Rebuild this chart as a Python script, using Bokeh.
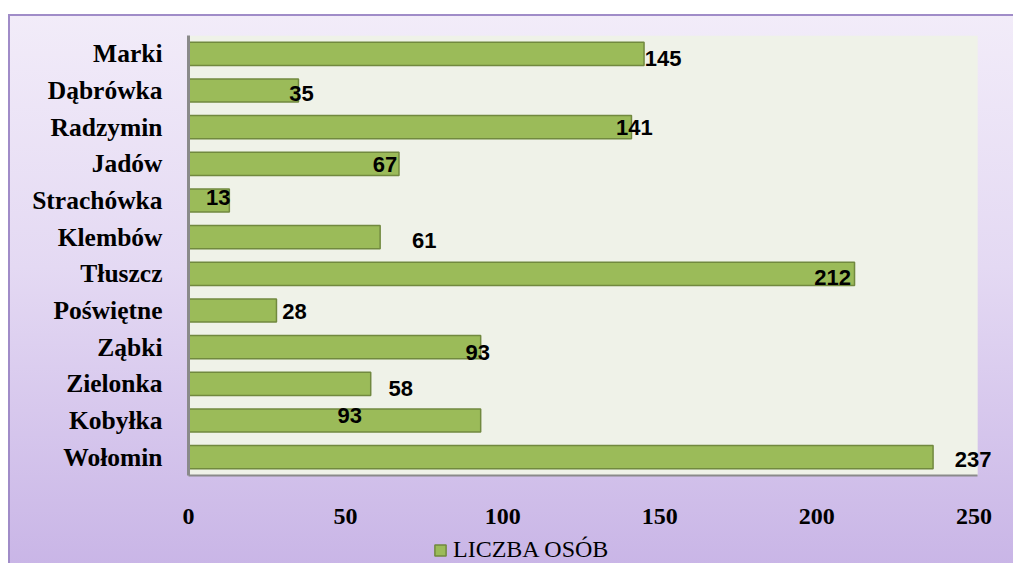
from bokeh.plotting import figure
from bokeh.layouts import column
from bokeh.models import (ColumnDataSource, Range1d, FactorRange, FixedTicker,
                          Legend, LegendItem, LabelSet, BoxAnnotation)
from bokeh.core.properties import value
from bokeh.embed import file_html
from bokeh.resources import INLINE

# ---- data (top to bottom as in the chart) ----
towns = ["Marki", "Dąbrówka", "Radzymin", "Jadów", "Strachówka", "Klembów",
         "Tłuszcz", "Poświętne", "Ząbki", "Zielonka", "Kobyłka", "Wołomin"]
counts = [145, 35, 141, 67, 13, 61, 212, 28, 93, 58, 93, 237]
x_ticks = [0, 50, 100, 150, 200, 250]
series_name = "LICZBA OSÓB"

# label placement (pixel offsets from bar end, as in the original; dy: + = up)
label_dx = [19, 3, 3, -14, -11, 44, -22, 18, -3, 30, -131, 40]
label_dy = [-5, -3, 0, -1, 3, -3, -4, -1, -5, -5, 5, -2]

BAR_FILL = "#9bbb59"
BAR_LINE = "#71893f"
AXIS_MAX = 251.2          # right edge of the plotting area (axis units)
X_VIEW_END = 262.6        # visible extent, leaves room for outside labels

src = ColumnDataSource(dict(town=towns, count=counts,
                            label=[str(c) for c in counts],
                            dx=label_dx, dy=label_dy))

W = 1013
H_MAIN = 533
H_LEG = 30

p = figure(width=W, height=H_MAIN, output_backend="svg", toolbar_location=None,
           y_range=FactorRange(*list(reversed(towns))),
           x_range=Range1d(0, X_VIEW_END),
           min_border_left=188, min_border_right=0,
           min_border_top=35, min_border_bottom=H_MAIN - 475)
p.border_fill_color = None
p.background_fill_color = None
p.outline_line_color = None

# plotting-area background (light green-grey) up to the axis maximum
p.add_layout(BoxAnnotation(left=0, right=AXIS_MAX, fill_color="#eff2e8",
                           fill_alpha=1, line_color=None, level="underlay"))

p.hbar(y="town", right="count", left=0, height=0.63, source=src,
       fill_color=BAR_FILL, line_color=BAR_LINE, line_width=1.5)

labels = LabelSet(x="count", y="town", text="label", source=src,
                  x_offset="dx", y_offset="dy",
                  text_font=value("Liberation Sans"), text_font_style="bold",
                  text_font_size="22px", text_color="#000000",
                  text_align="center", text_baseline="middle")
p.add_layout(labels)

p.xgrid.grid_line_color = None
p.ygrid.grid_line_color = None

xa = p.xaxis[0]
xa.ticker = FixedTicker(ticks=x_ticks)
xa.bounds = (0, AXIS_MAX)
xa.axis_line_color = "#8a8a8a"
xa.axis_line_width = 2
xa.major_tick_line_color = None
xa.minor_tick_line_color = None
xa.major_label_standoff = 27
xa.major_label_text_font = "Liberation Serif"
xa.major_label_text_font_style = "bold"
xa.major_label_text_font_size = "24px"
xa.major_label_text_color = "#000000"

ya = p.yaxis[0]
ya.axis_line_color = "#8a8a8a"
ya.axis_line_width = 3
ya.major_tick_line_color = None
ya.minor_tick_line_color = None
ya.major_label_standoff = 20
ya.major_label_text_font = "Liberation Serif"
ya.major_label_text_font_style = "bold"
ya.major_label_text_font_size = "25.5px"
ya.major_label_text_color = "#000000"

# ---- legend strip (separate transparent figure under the chart) ----
lg = figure(width=W, height=H_LEG, output_backend="svg", toolbar_location=None,
            x_range=Range1d(0, 1), y_range=Range1d(0, 1),
            x_axis_type=None, y_axis_type=None, min_border=0)
lg.border_fill_color = None
lg.background_fill_color = None
lg.outline_line_color = None
lg.xgrid.grid_line_color = None
lg.ygrid.grid_line_color = None
swatch = lg.hbar(y=0, right="count", height=0.5, source=src, visible=False,
                 fill_color=BAR_FILL, line_color=BAR_LINE, line_width=1.5)
legend = Legend(items=[LegendItem(label=series_name, renderers=[swatch])],
                location=(245, 0), orientation="horizontal",
                background_fill_alpha=0, border_line_color=None,
                inactive_fill_alpha=0,
                padding=0, margin=0, glyph_width=14, glyph_height=14,
                label_standoff=6,
                label_text_font="Liberation Serif",
                label_text_font_size="24px",
                label_text_color="#000000")
lg.add_layout(legend, "center")

grad = "linear-gradient(to bottom, #f2ecf9 0%, #e4d9f3 45%, #c8b4e6 100%)"
line = "linear-gradient(#a08cc8, #a08cc8)"
layout = column(p, lg, spacing=0)
layout.styles = {
    "background-color": "#ffffff",
    "background-image": f"{line}, {line}, {grad}",
    "background-repeat": "no-repeat",
    "background-position": "8px 14px, 8px 14px, 8px 14px",
    "background-size": "2px 100%, 100% 2px, 100% 100%",
}

open("out.html", "w").write(file_html(layout, INLINE))
